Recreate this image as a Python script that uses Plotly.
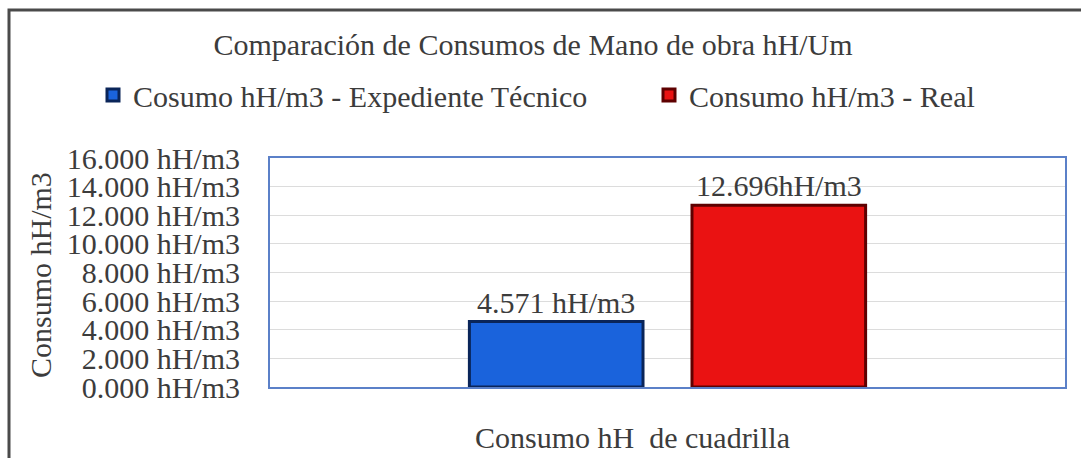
import plotly.graph_objects as go

# ---- data ----
categories = ["Consumo hH de cuadrilla"]
series_names = ["Cosumo hH/m3 - Expediente Técnico", "Consumo hH/m3 - Real"]
series_values = [[4.571], [12.696]]
bar_labels = [["4.571 hH/m3"], ["12.696hH/m3"]]
fill_colors = ["#1a63dc", "#ea1212"]
edge_colors = ["#0a2559", "#5e0000"]
y_tickvals = [0, 2, 4, 6, 8, 10, 12, 14, 16]
y_ticktext = ["0.000 hH/m3", "2.000 hH/m3", "4.000 hH/m3", "6.000 hH/m3", "8.000 hH/m3",
              "10.000 hH/m3", "12.000 hH/m3", "14.000 hH/m3", "16.000 hH/m3"]
title_text = "Comparación de Consumos de Mano de obra hH/Um"
x_title = "Consumo hH  de cuadrilla"
y_title = "Consumo hH/m3"

FONT = "Liberation Serif, DejaVu Serif, serif"
TXT = "#3c3c3c"
W, H = 1081, 458
L, R, T, B = 270, 16, 158, 71

fig = go.Figure()
legend_ids = ["legend", "legend2"]
for name, vals, labs, fc, ec, lg in zip(series_names, series_values, bar_labels,
                                         fill_colors, edge_colors, legend_ids):
    fig.add_trace(go.Bar(
        x=categories, y=vals, name=name, legend=lg,
        text=labs, textposition="outside", texttemplate="%{text}",
        textfont=dict(family=FONT, size=30, color=TXT),
        marker=dict(color=fc, line=dict(color=ec, width=3)),
        cliponaxis=False,
    ))

pw = W - L - R
ph = H - T - B
def px_x(px):
    return (px - L) / pw
def px_y(py):
    return (H - B - py) / ph

legend_common = dict(orientation="h", xref="container", yref="container",
                     xanchor="left", y=1 - 95 / H, yanchor="middle",
                     font=dict(family=FONT, size=30, color=TXT),
                     bgcolor="rgba(0,0,0,0)", itemwidth=30)

fig.update_layout(
    width=W, height=H,
    margin=dict(l=L, r=R, t=T, b=B, autoexpand=False),
    paper_bgcolor="white", plot_bgcolor="white",
    barmode="group", bargap=0.44, bargroupgap=0.22,
    font=dict(family=FONT, size=30, color=TXT),
    title=dict(text=title_text, x=533 / W, xref="container", xanchor="center",
               y=1 - 44 / H, yref="container", yanchor="middle",
               font=dict(family=FONT, size=30, color=TXT)),
    legend=dict(x=93 / W, **legend_common),
    legend2=dict(x=649 / W, **legend_common),
    showlegend=True,
    xaxis=dict(showticklabels=False, showgrid=False, zeroline=False,
               showline=True, mirror=True, linecolor="#5b80c8", linewidth=2,
               ticks=""),
    yaxis=dict(range=[0, 16], tickvals=y_tickvals, ticktext=y_ticktext,
               showgrid=True, gridcolor="#dcdcdc", gridwidth=1, zeroline=False,
               showline=True, mirror=True, linecolor="#5b80c8", linewidth=2,
               ticks="", ticklabelstandoff=22,
               tickfont=dict(family=FONT, size=30, color=TXT)),
    annotations=[
        dict(text=x_title, xref="paper", yref="paper", x=px_x(632), y=px_y(437),
             xanchor="center", yanchor="middle", showarrow=False,
             font=dict(family=FONT, size=30, color=TXT)),
        dict(text=y_title, xref="paper", yref="paper", x=px_x(40), y=px_y(275),
             xanchor="center", yanchor="middle", showarrow=False, textangle=-90,
             font=dict(family=FONT, size=30, color=TXT)),
    ],
    shapes=[
        dict(type="rect", xref="paper", yref="paper",
             x0=px_x(9), x1=px_x(1100), y0=px_y(480), y1=px_y(10),
             line=dict(color="#4a4a4a", width=3), fillcolor="rgba(0,0,0,0)", layer="above"),
    ],
)

fig.write_html("out.html", config={"displayModeBar": False},
               post_script="document.body.style.margin='0';document.body.style.overflow='hidden';")
